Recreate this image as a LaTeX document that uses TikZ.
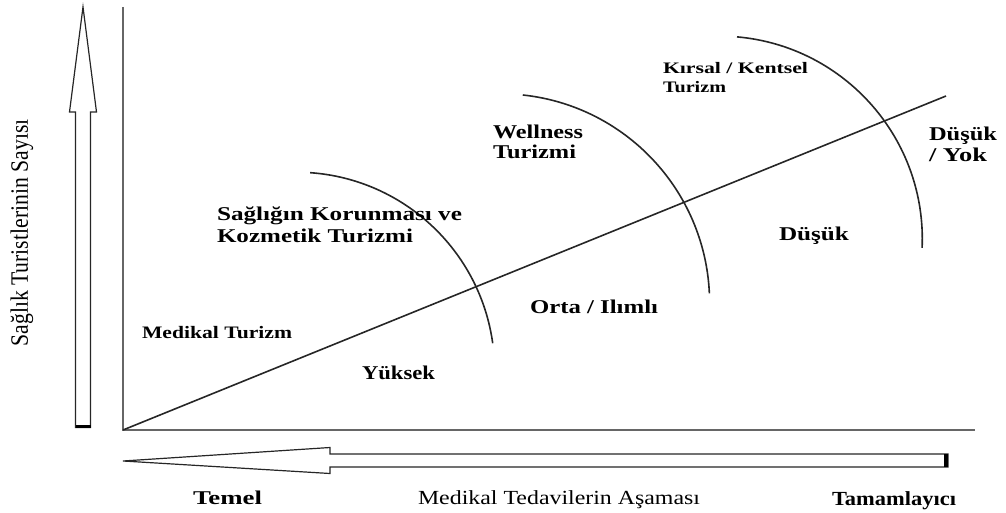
\documentclass[tikz,border=0pt]{standalone}
\usepackage{fontspec}
\usepackage{graphicx}
\setmainfont{Liberation Serif}
\newcommand{\fitw}[2]{\resizebox{#1pt}{\height}{#2}}
\tikzset{
  lbl/.style={inner sep=0pt, outer sep=0pt, anchor=base west, font=\bfseries\fontsize{19.5}{23}\selectfont},
  small/.style={font=\bfseries\fontsize{16}{19}\selectfont},
  plain/.style={font=\fontsize{20}{24}\selectfont},
  axis/.style={draw=black!60, line width=2pt},
  curve/.style={draw=black!85, line width=1.6pt},
  blockarrow/.style={draw=black!85, line width=1.2pt, fill=white, line join=miter},
}
\begin{document}
\begin{tikzpicture}[x=1pt, y=-1pt]
\useasboundingbox (0,0) rectangle (1006,513);
% axes
\coordinate (O) at (123,430);
\coordinate (ytop) at (123,7);
\coordinate (xend) at (975,430);
\draw[axis] (ytop) -- (O) -- (xend);
% diagonal
\coordinate (dend) at (946,96);
\draw[curve] (O) -- (dend);
% arcs
\coordinate (c1) at (296.3,370.5);
\coordinate (c2) at (500.6,302.8);
\coordinate (c3) at (719.3,239.1);
\draw[curve] ([shift={(-86:198.3)}]c1) arc[start angle=-86, end angle=-7.9, radius=198.3];
\draw[curve] ([shift={(-83.9:209)}]c2) arc[start angle=-83.9, end angle=-2.6, radius=209];
\draw[curve] ([shift={(-85:203)}]c3) arc[start angle=-85, end angle=2.5, radius=203];
% vertical block arrow
\draw[blockarrow] (75.5,427.5) -- (75.5,112) -- (69.5,112) -- (83,7) -- (96.5,112) -- (90.5,112) -- (90.5,427.5) -- cycle;
\draw[black, line width=3pt] (75.5,426.5) -- (90.5,426.5);
% horizontal block arrow
\draw[blockarrow] (123,461) -- (330,447.5) -- (330,454) -- (948,454) -- (948,467) -- (330,467) -- (330,473.5) -- cycle;
\draw[black, line width=4pt] (946,454) -- (946,467);
% labels
\node[lbl] (sk1) at (217,221) {\fitw{245}{Sağlığın Korunması ve}};
\node[lbl] (sk2) at (217,242) {\fitw{196}{Kozmetik Turizmi}};
\node[lbl] (w1) at (493,139) {\fitw{90}{Wellness}};
\node[lbl] (w2) at (493,159) {\fitw{83}{Turizmi}};
\node[lbl, small] (kr1) at (663,74) {\fitw{145}{Kırsal / Kentsel}};
\node[lbl, small] (kr2) at (663,93) {\fitw{63}{Turizm}};
\node[lbl] (dy1) at (929,141) {\fitw{68}{Düşük}};
\node[lbl] (dy2) at (929,161) {\fitw{58}{/ Yok}};
\node[lbl] (dk) at (779,240) {\fitw{70}{Düşük}};
\node[lbl] (or) at (530,313) {\fitw{128}{Orta / Ilımlı}};
\node[lbl] (yk) at (362,379) {\fitw{73}{Yüksek}};
\node[lbl, font=\bfseries\fontsize{17.5}{21}\selectfont] (mt) at (142,338) {\fitw{150}{Medikal Turizm}};
\node[lbl] (te) at (193,504) {\fitw{69}{Temel}};
\node[lbl, plain] (md) at (418,504) {\fitw{282}{Medikal Tedavilerin Aşaması}};
\node[lbl, font=\bfseries\fontsize{20}{24}\selectfont] (ta) at (832,505) {\fitw{124}{Tamamlayıcı}};
\node[inner sep=0pt, rotate=90, font=\fontsize{25}{30}\selectfont] (vy) at (22,233) {\fitw{227}{Sağlık Turistlerinin Sayısı}};
\end{tikzpicture}
\end{document}
